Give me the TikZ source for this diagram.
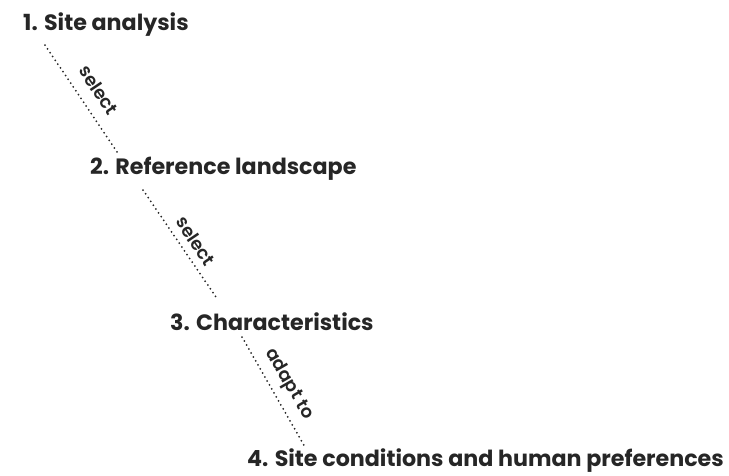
\documentclass[tikz,border=0pt]{standalone}
\usepackage{fontspec}
\setmainfont{Poppins}[UprightFont=* SemiBold, BoldFont=* Bold]
\begin{document}
\begin{tikzpicture}[x=1pt,y=-1pt,
  stage/.style={font=\fontsize{22.2}{26}\selectfont\bfseries, inner sep=0pt, anchor=west, text=black!85},
  link/.style={line width=2pt, line cap=round, dash pattern=on 0pt off 4.6pt, black!85},
  lbl/.style={font=\fontsize{18}{21}\selectfont, inner sep=0pt, text=black!85}]
\useasboundingbox (0,0) rectangle (729,475);
\node[stage] (n1) at (23,25) {1. Site analysis};
\node[stage] (n2) at (90,169) {2. Reference landscape};
\node[stage] (n3) at (170,322) {3. Characteristics};
\node[stage] (n4) at (247,461) {4. Site conditions and human preferences};
\coordinate (a1) at (45,45);  \coordinate (b1) at (119,155);
\coordinate (a2) at (143,190); \coordinate (b2) at (218,300);
\coordinate (a3) at (242,337); \coordinate (b3) at (305,447);
\draw[link] (a1) -- (b1);
\draw[link] (a2) -- (b2);
\draw[link] (a3) -- (b3);
\node[lbl, rotate=-56] (l1) at (99,90) {select};
\node[lbl, rotate=-56] (l2) at (196,241) {select};
\node[lbl, rotate=-60] (l3) at (289,384) {adapt to};
\end{tikzpicture}
\end{document}
